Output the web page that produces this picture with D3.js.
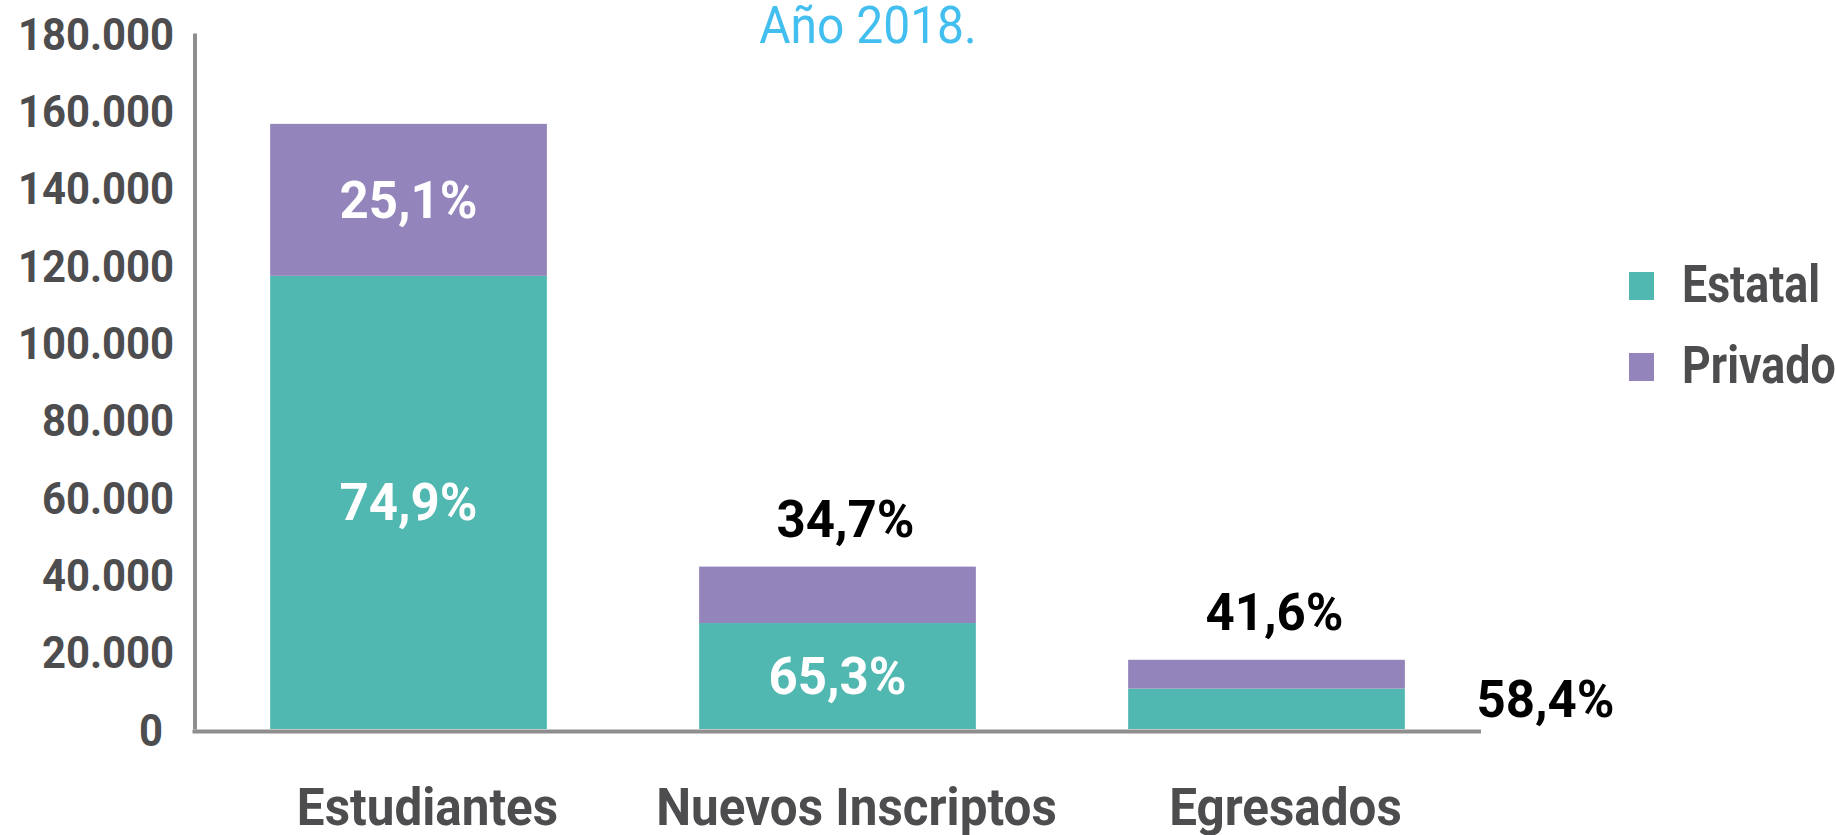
<!DOCTYPE html>
<html lang="es">
<head>
    <meta charset="UTF-8">
    <script src="https://cdn.jsdelivr.net/npm/d3@7"></script>
    <title>Año 2018</title>
    <style>
        body { margin: 0; background: #fff; }
        text { font-family: Roboto, "Noto Sans", sans-serif; }
        .tick text { font-weight: 700; fill: #4d4d4f; }
        .domain { stroke: #8e8e8e; stroke-width: 4px; }
    </style>
</head>
<body>
    <div id="chart"></div>
    <script>
        // Data
        const categories = ["Estudiantes", "Nuevos Inscriptos", "Egresados"];
        const estatal = [117200, 27400, 10450];
        const privado = [39300, 14600, 7450];
        const estatalPct = ["74,9%", "65,3%", "58,4%"];
        const privadoPct = ["25,1%", "34,7%", "41,6%"];
        const estatalPos = ["inside", "inside", "right"];
        const privadoPos = ["inside", "above", "above"];
        const series = ["Estatal", "Privado"];
        const yTicks = [0, 20000, 40000, 60000, 80000, 100000, 120000, 140000, 160000, 180000];
        const title = "Año 2018.";

        const colors = { Estatal: "#50b8b1", Privado: "#9384bb" };
        const W = 1836, H = 835;

        const svg = d3.select("#chart").append("svg")
            .attr("width", W)
            .attr("height", H);

        const y = d3.scaleLinear().domain([0, 180000]).range([729, 33]);
        const x = d3.scaleBand().domain(categories).range([194, 1481]).paddingInner(0.355).paddingOuter(0.1775);

        const locale = d3.formatLocale({ decimal: ",", thousands: ".", grouping: [3], currency: ["$", ""] });
        const fmt = locale.format(",d");

        // helper for squeezed text (font is narrower in the original)
        const label = (sel, tx, ty, txt, opts) => {
            const g = sel.append("g").attr("transform", `translate(${tx},${ty}) scale(${opts.sx || 1},1)`);
            return g.append("text")
                .attr("text-anchor", opts.anchor || "middle")
                .style("font-size", opts.size + "px")
                .style("font-weight", opts.weight || 700)
                .attr("fill", opts.fill || "#4d4d4f")
                .text(txt);
        };

        // Title
        label(svg, 868, 43, title, { size: 51, weight: 400, fill: "#42bfee", sx: 0.94 });

        // Y axis
        const yAxis = svg.append("g")
            .attr("transform", "translate(194.5,0)")
            .call(d3.axisLeft(y).tickValues(yTicks).tickFormat(fmt).tickSize(0).tickPadding(22));
        yAxis.selectAll(".tick text")
            .style("font-size", "45px")
            .attr("dy", "0.36em")
            .attr("dx", d => d === 0 ? -12 : 0)
            .attr("transform", "scale(0.93,1)");

        // Stacked data
        const rows = categories.map((c, i) => ({ cat: c, Estatal: estatal[i], Privado: privado[i] }));
        const stack = d3.stack().keys(series)(rows);

        svg.append("g").selectAll("g")
            .data(stack)
            .join("g")
            .attr("fill", d => colors[d.key])
            .selectAll("rect")
            .data(d => d)
            .join("rect")
            .attr("x", d => x(d.data.cat))
            .attr("width", x.bandwidth())
            .attr("y", d => y(d[1]))
            .attr("height", d => y(d[0]) - y(d[1]));

        // X baseline
        svg.append("line")
            .attr("x1", 192.5).attr("x2", 1481)
            .attr("y1", y(0) + 2.5).attr("y2", y(0) + 2.5)
            .attr("stroke", "#8e8e8e")
            .attr("stroke-width", 4);

        // Percent labels
        const pctLayer = svg.append("g");
        categories.forEach((c, i) => {
            const cx = x(c) + x.bandwidth() / 2;
            // estatal
            const eMid = (y(0) + y(estatal[i])) / 2;
            if (estatalPos[i] === "inside") {
                label(pctLayer, cx, eMid + 18, estatalPct[i], { size: 51, fill: "#fff" });
            } else {
                label(pctLayer, cx + 279, eMid + 8, estatalPct[i], { size: 51, fill: "#000" });
            }
            // privado
            const top = y(estatal[i] + privado[i]);
            const pMid = (y(estatal[i]) + top) / 2;
            if (privadoPos[i] === "inside") {
                label(pctLayer, cx, pMid + 18, privadoPct[i], { size: 51, fill: "#fff" });
            } else {
                label(pctLayer, cx + 8, top - 30, privadoPct[i], { size: 51, fill: "#000" });
            }
        });

        // Category labels
        categories.forEach(c => {
            label(svg, x(c) + x.bandwidth() / 2 + 19, 825, c, { size: 52, sx: 0.95 });
        });

        // Legend
        const legend = svg.append("g");
        series.forEach((s, i) => {
            const ly = 272 + i * 81;
            legend.append("rect")
                .attr("x", 1629).attr("y", ly)
                .attr("width", 25).attr("height", 28)
                .attr("fill", colors[s]);
            label(legend, 1682, ly + 30, s, { size: 52, sx: 0.86, anchor: "start" });
        });
    </script>
</body>
</html>
